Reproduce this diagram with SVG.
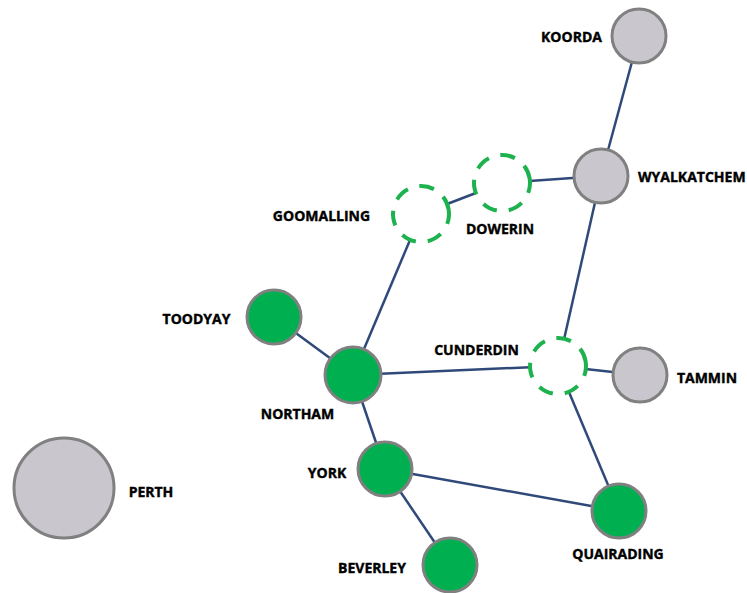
<svg xmlns="http://www.w3.org/2000/svg" width="747" height="593" viewBox="0 0 747 593">
<style>
.bg{fill:#ffffff}
.e{stroke:#2f4a7a;stroke-width:2.5;fill:none}
.grey{fill:#c9c7cd;stroke:#808080;stroke-width:3}
.green{fill:#00b050;stroke:#808080;stroke-width:3}
.dash{fill:#ffffff;stroke:#1db24e;stroke-width:4;stroke-dasharray:15 12}
text{font-family:"Open Sans","Noto Sans","DejaVu Sans",sans-serif;font-weight:700;font-size:14px;fill:#000;stroke:#000;stroke-width:0.4;dominant-baseline:central}
</style>
<rect class="bg" x="0" y="0" width="747" height="593"/>
<g id="connectors">
<line class="e" x1="639" y1="36" x2="601" y2="176"/>
<line class="e" x1="601" y1="176" x2="502" y2="183"/>
<line class="e" x1="502" y1="183" x2="421" y2="214"/>
<line class="e" x1="421" y1="214" x2="353" y2="375"/>
<line class="e" x1="274" y1="317" x2="353" y2="375"/>
<line class="e" x1="353" y1="375" x2="558" y2="366"/>
<line class="e" x1="601" y1="176" x2="558" y2="366"/>
<line class="e" x1="558" y1="366" x2="640" y2="375"/>
<line class="e" x1="558" y1="366" x2="619" y2="511"/>
<line class="e" x1="353" y1="375" x2="385" y2="469"/>
<line class="e" x1="385" y1="469" x2="619" y2="511"/>
<line class="e" x1="385" y1="469" x2="450" y2="565"/>
</g>
<g id="koorda"><circle class="grey" cx="639" cy="36" r="27"/><text x="571.5" y="36" text-anchor="middle">KOORDA</text></g>
<g id="wyalkatchem"><circle class="grey" cx="601" cy="176" r="27"/><text x="638" y="176">WYALKATCHEM</text></g>
<g id="dowerin"><circle class="dash" cx="502" cy="183" r="28" transform="rotate(-10 502 183)"/><text x="500" y="228" text-anchor="middle">DOWERIN</text></g>
<g id="goomalling"><circle class="dash" cx="421" cy="214" r="28" transform="rotate(-10 421 214)"/><text x="321.5" y="215" text-anchor="middle">GOOMALLING</text></g>
<g id="toodyay"><circle class="green" cx="274" cy="317" r="27"/><text x="196.5" y="318" text-anchor="middle">TOODYAY</text></g>
<g id="northam"><circle class="green" cx="353" cy="375" r="28"/><text x="297.5" y="413" text-anchor="middle">NORTHAM</text></g>
<g id="cunderdin"><circle class="dash" cx="558" cy="366" r="28" transform="rotate(-10 558 366)"/><text x="476.5" y="349" text-anchor="middle">CUNDERDIN</text></g>
<g id="tammin"><circle class="grey" cx="640" cy="375" r="27"/><text x="707" y="377" text-anchor="middle">TAMMIN</text></g>
<g id="perth"><circle class="grey" cx="64" cy="488" r="50"/><text x="151" y="491" text-anchor="middle">PERTH</text></g>
<g id="york"><circle class="green" cx="385" cy="469" r="27"/><text x="327" y="472" text-anchor="middle">YORK</text></g>
<g id="quairading"><circle class="green" cx="619" cy="511" r="27"/><text x="618" y="553" text-anchor="middle">QUAIRADING</text></g>
<g id="beverley"><circle class="green" cx="450" cy="565" r="27"/><text x="372" y="567" text-anchor="middle">BEVERLEY</text></g>
</svg>
